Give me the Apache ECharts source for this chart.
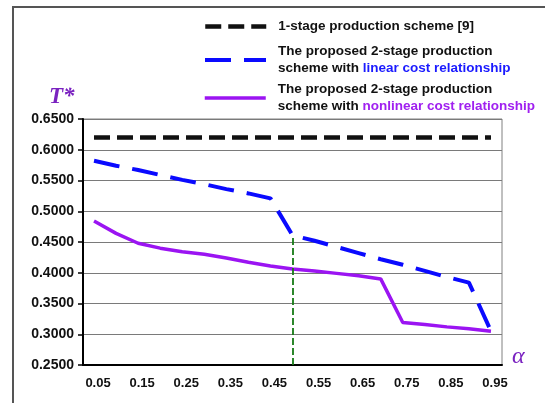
<!DOCTYPE html>
<html>
<head>
<meta charset="utf-8">
<script src="https://cdn.jsdelivr.net/npm/echarts@6/dist/echarts.min.js"></script>
<style>html,body{margin:0;padding:0;background:#fff;}#c{width:545px;height:403px;}</style>
</head>
<body>
<div id="c"></div>
<script>
const alphas = ['0.05','0.10','0.15','0.20','0.25','0.30','0.35','0.40','0.45','0.50','0.55','0.60','0.65','0.70','0.75','0.80','0.85','0.90','0.95'];
const oneStage = [0.62,0.62,0.62,0.62,0.62,0.62,0.62,0.62,0.62,0.62,0.62,0.62,0.62,0.62,0.62,0.62,0.62,0.62,0.62];
const linearCost = [0.582,0.574,0.567,0.559,0.551,0.544,0.536,0.529,0.521,0.461,0.452,0.442,0.432,0.422,0.413,0.403,0.393,0.384,0.305];
const nonlinearCost = [0.484,0.464,0.448,0.440,0.434,0.430,0.424,0.417,0.411,0.406,0.403,0.399,0.395,0.390,0.319,0.316,0.312,0.309,0.305];
const markAlpha = '0.50';
const markTop = 0.461;
const yTicks = {min:0.25, max:0.65, interval:0.05};

const FONT = '"Liberation Sans", Arial, sans-serif';
const BLUE = '#0a0aff', PURPLE = '#9b14f2', BLACK = '#111111';
const chart = echarts.init(document.getElementById('c'), null, {renderer:'canvas'});
const legendText = {fontFamily:FONT, fontWeight:'bold', fontSize:13.5, color:'#111', lineHeight:17, padding:[0,0,0,7],
  rich:{
    b:{fontFamily:FONT, fontWeight:'bold', fontSize:13.5, color:'#1a1aff', lineHeight:17},
    p:{fontFamily:FONT, fontWeight:'bold', fontSize:13.5, color:'#a020f0', lineHeight:17}
  }};
const names = ['1-stage production scheme [9]','linear','nonlinear'];
const legendBase = {left:203, itemWidth:61, itemHeight:14, padding:0, textStyle:legendText, selectedMode:false,
  itemStyle:{color:'transparent', borderWidth:0, opacity:0}};
chart.setOption({
  animation:false,
  backgroundColor:'#fff',
  grid:{left:83, right:43, top:119, bottom:38, show:true, borderColor:'#808080', borderWidth:1},
  legend:[
    Object.assign({}, legendBase, {data:[names[0]], top:18,
      lineStyle:{color:BLACK, width:4.5, type:[16,7]}}),
    Object.assign({}, legendBase, {data:[names[1]], top:43,
      lineStyle:{color:BLUE, width:4, type:[26,13]},
      formatter:()=> 'The proposed 2-stage production\nscheme with {b|linear cost relationship}'}),
    Object.assign({}, legendBase, {data:[names[2]], top:81,
      lineStyle:{color:PURPLE, width:3.5, type:'solid'},
      formatter:()=> 'The proposed 2-stage production\nscheme with {p|nonlinear cost relationship}'})
  ],
  xAxis:{type:'category', data:alphas, boundaryGap:true,
    axisLine:{lineStyle:{color:'#000', width:2}},
    axisTick:{interval:0, length:5, lineStyle:{color:'#000', width:1.5}},
    axisLabel:{interval:1, margin:12, fontFamily:FONT, fontWeight:'bold', fontSize:13, color:'#111', padding:[0,0,0,8]},
    splitLine:{show:false}},
  yAxis:{type:'value', min:yTicks.min, max:yTicks.max, interval:yTicks.interval,
    axisLine:{show:true, lineStyle:{color:'#000', width:2}},
    axisTick:{show:true, length:5, lineStyle:{color:'#000', width:1.5}},
    axisLabel:{margin:9, fontFamily:FONT, fontWeight:'bold', fontSize:14, color:'#111', formatter:v=>v.toFixed(4)},
    splitLine:{lineStyle:{color:'#7a7a7a', width:1}}},
  series:[
    {name:names[0], type:'line', data:oneStage, symbol:'none', color:BLACK,
      lineStyle:{color:BLACK, width:4.5, type:[16,7]}},
    {name:names[1], type:'line', data:linearCost, symbol:'none', color:BLUE,
      lineStyle:{color:BLUE, width:4, type:[26,13]},
      markLine:{silent:true, symbol:'none', label:{show:false},
        lineStyle:{color:'#167a16', width:1.8, type:[7,3]},
        data:[[{coord:[markAlpha, yTicks.min]},{coord:[markAlpha, markTop]}]]}},
    {name:names[2], type:'line', data:nonlinearCost, symbol:'none', color:PURPLE,
      lineStyle:{color:PURPLE, width:3.5, type:'solid'}}
  ],
  graphic:[
    {type:'rect', shape:{x:13, y:7, width:600, height:500}, style:{fill:null, stroke:'#555', lineWidth:2}, silent:true, z:-1},
    {type:'text', left:49, top:86, style:{text:'T*', font:'italic bold 23px "Liberation Serif", "Times New Roman", serif', fill:'#7a22c0'}},
    {type:'text', left:512, top:345, style:{text:'α', font:'italic 24px "Liberation Serif", "Times New Roman", serif', fill:'#7a22c0'}}
  ]
});
</script>
</body>
</html>
